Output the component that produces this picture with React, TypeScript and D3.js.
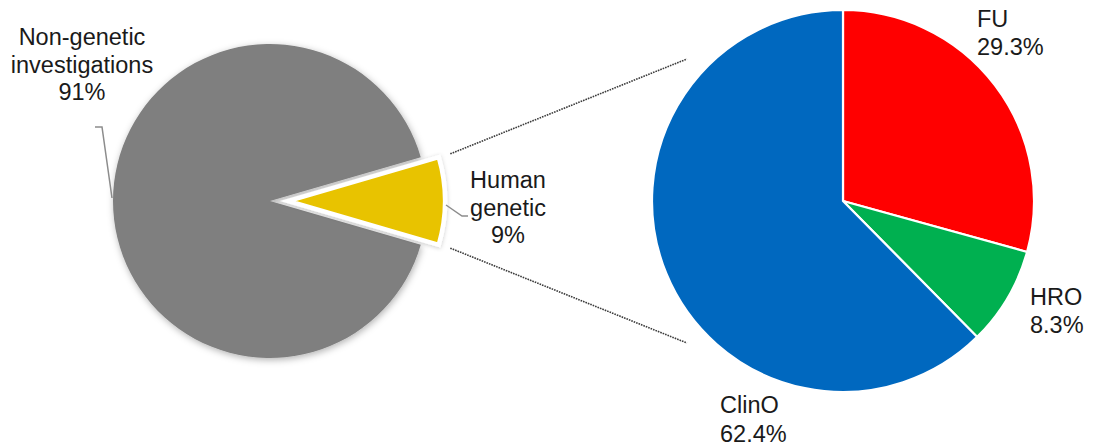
import React from "react";
import * as d3 from "d3";

// ---- data ----
const overviewLabels = ["Non-genetic investigations", "Human genetic"];
const overviewValues = [91, 9];
const overviewColors = ["#7f7f7f", "#e8c300"];

const detailLabels = ["FU", "HRO", "ClinO"];
const detailValues = [29.3, 8.3, 62.4];
const detailColors = ["#ff0000", "#00b050", "#0068bf"];

// ---- layout ----
const W = 1095;
const H = 446;
const left = { cx: 270, cy: 201, r: 157, explode: 18 };
const right = { cx: 843, cy: 201, r: 191 };
const FONT = "'Liberation Sans', Arial, sans-serif";
const FS = 23.5;

export default function App() {
  const total = d3.sum(overviewValues);
  const smallFrac = overviewValues[1] / total;
  const a0 = Math.PI / 2 + smallFrac * Math.PI;
  const pieL = d3
    .pie<number>()
    .sort(null)
    .value((d) => d)
    .startAngle(a0)
    .endAngle(a0 + 2 * Math.PI);
  const arcsL = pieL(overviewValues);
  const arcL = d3.arc<d3.PieArcDatum<number>>().innerRadius(0).outerRadius(left.r);

  const pieR = d3.pie<number>().sort(null).value((d) => d);
  const arcsR = pieR(detailValues);
  const arcR = d3.arc<d3.PieArcDatum<number>>().innerRadius(0).outerRadius(right.r);

  const offset = (d: d3.PieArcDatum<number>, i: number) => {
    if (i !== 1) return [0, 0];
    const mid = (d.startAngle + d.endAngle) / 2;
    return [Math.sin(mid) * left.explode, -Math.cos(mid) * left.explode];
  };

  // connector lines (from exploded slice to detail pie)
  const yArc = arcsL[1];
  const yOff = offset(yArc, 1);
  const cornerPt = (ang: number, rr: number, cx: number, cy: number) => [
    cx + Math.sin(ang) * rr,
    cy - Math.cos(ang) * rr,
  ];
  const sTop = cornerPt(yArc.startAngle, left.r + 12, left.cx + yOff[0], left.cy + yOff[1]);
  const sBot = cornerPt(yArc.endAngle, left.r + 12, left.cx + yOff[0], left.cy + yOff[1]);
  const eTop = cornerPt(-Math.PI * 0.265, right.r + 20, right.cx, right.cy);
  const eBot = cornerPt(-Math.PI * 0.735, right.r + 20, right.cx, right.cy);

  const textStyle: React.CSSProperties = { fontFamily: FONT, fontSize: FS, fill: "#1a1a1a" };

  return (
    <svg
      width={W}
      height={H}
      viewBox={`0 0 ${W} ${H}`}
      style={{ position: "absolute", left: 0, top: 0, background: "#fff" }}
    >
      <defs>
        <filter id="shadow" x="-20%" y="-20%" width="140%" height="140%">
          <feDropShadow dx="1" dy="2" stdDeviation="3.5" floodColor="#000" floodOpacity="0.3" />
        </filter>
        <filter id="shadowS" x="-20%" y="-20%" width="140%" height="140%">
          <feDropShadow dx="0" dy="1" stdDeviation="2" floodColor="#000" floodOpacity="0.2" />
        </filter>
      </defs>

      {/* overview pie */}
      <g transform={`translate(${left.cx},${left.cy})`}>
        {arcsL.map((d, i) => {
          const [dx, dy] = offset(d, i);
          return (
            <path
              key={overviewLabels[i]}
              d={arcL(d) || ""}
              transform={`translate(${dx},${dy})`}
              fill={overviewColors[i]}
              stroke={i === 1 ? "#fff" : "none"}
              strokeWidth={i === 1 ? 4.5 : 0}
              strokeLinejoin="miter"
              filter={i === 0 ? "url(#shadow)" : "url(#shadowS)"}
            />
          );
        })}
      </g>

      {/* leader lines for overview */}
      <polyline points={`95,127 102,127 112,198`} fill="none" stroke="#8c8c8c" strokeWidth={1.5} />
      <polyline points={`446,205 462,216 468,216`} fill="none" stroke="#8c8c8c" strokeWidth={1.5} />

      {/* connector dotted lines */}
      <line x1={sTop[0]} y1={sTop[1]} x2={eTop[0]} y2={eTop[1]} stroke="#3c3c3c" strokeWidth={1.6} strokeDasharray="1.6 1" />
      <line x1={sBot[0]} y1={sBot[1]} x2={eBot[0]} y2={eBot[1]} stroke="#3c3c3c" strokeWidth={1.6} strokeDasharray="1.6 1" />

      {/* detail pie */}
      <g transform={`translate(${right.cx},${right.cy})`}>
        {arcsR.map((d, i) => (
          <path
            key={detailLabels[i]}
            d={arcR(d) || ""}
            fill={detailColors[i]}
            stroke="#fff"
            strokeWidth={2.2}
            strokeLinejoin="round"
          />
        ))}
      </g>

      {/* overview labels */}
      <text style={textStyle} textAnchor="middle">
        <tspan x={82} y={45}>Non-genetic</tspan>
        <tspan x={82} y={72.5}>investigations</tspan>
        <tspan x={82} y={100}>{`${overviewValues[0]}%`}</tspan>
      </text>
      <text style={textStyle} textAnchor="middle">
        <tspan x={508} y={188}>Human</tspan>
        <tspan x={508} y={215.5}>genetic</tspan>
        <tspan x={508} y={243}>{`${overviewValues[1]}%`}</tspan>
      </text>

      {/* detail labels */}
      <text style={textStyle}>
        <tspan x={977} y={27}>{detailLabels[0]}</tspan>
        <tspan x={977} y={55}>{`${detailValues[0].toFixed(1)}%`}</tspan>
      </text>
      <text style={textStyle}>
        <tspan x={1030} y={305}>{detailLabels[1]}</tspan>
        <tspan x={1030} y={333}>{`${detailValues[1].toFixed(1)}%`}</tspan>
      </text>
      <text style={textStyle}>
        <tspan x={720} y={413}>{detailLabels[2]}</tspan>
        <tspan x={720} y={442}>{`${detailValues[2].toFixed(1)}%`}</tspan>
      </text>
    </svg>
  );
}
